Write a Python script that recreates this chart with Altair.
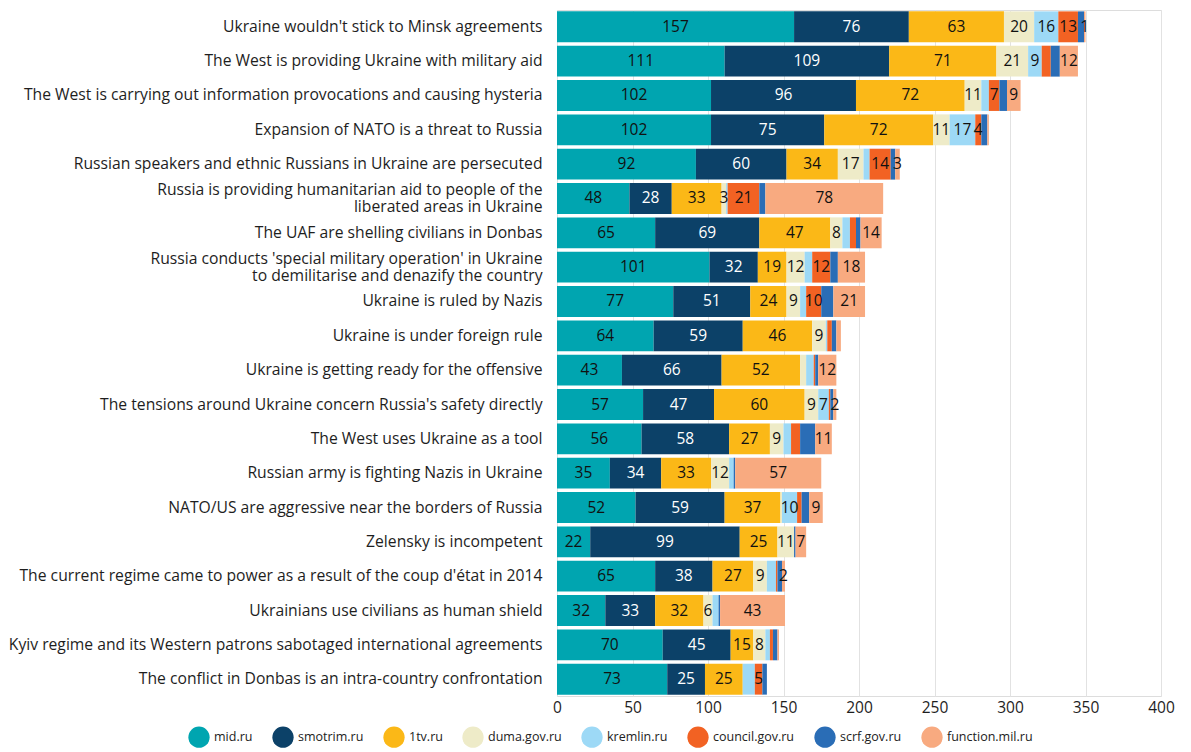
import altair as alt
import pandas as pd

claims = [
    "Ukraine wouldn't stick to Minsk agreements",
    "The West is providing Ukraine with military aid",
    "The West is carrying out information provocations and causing hysteria",
    "Expansion of NATO is a threat to Russia",
    "Russian speakers and ethnic Russians in Ukraine are persecuted",
    "Russia is providing humanitarian aid to people of the|liberated areas in Ukraine",
    "The UAF are shelling civilians in Donbas",
    "Russia conducts 'special military operation' in Ukraine|to demilitarise and denazify the country",
    "Ukraine is ruled by Nazis",
    "Ukraine is under foreign rule",
    "Ukraine is getting ready for the offensive",
    "The tensions around Ukraine concern Russia's safety directly",
    "The West uses Ukraine as a tool",
    "Russian army is fighting Nazis in Ukraine",
    "NATO/US are aggressive near the borders of Russia",
    "Zelensky is incompetent",
    "The current regime came to power as a result of the coup d'état in 2014",
    "Ukrainians use civilians as human shield",
    "Kyiv regime and its Western patrons sabotaged international agreements",
    "The conflict in Donbas is an intra-country confrontation",
]

sources = ["mid.ru", "smotrim.ru", "1tv.ru", "duma.gov.ru", "kremlin.ru",
           "council.gov.ru", "scrf.gov.ru", "function.mil.ru"]
colors = ["#00a5b0", "#0c4168", "#fbb817", "#eeebc8", "#9dd9f6",
          "#f26223", "#2a6db6", "#f8aa80"]

mid = [157, 111, 102, 102, 92, 48, 65, 101, 77, 64, 43, 57, 56, 35, 52, 22, 65, 32, 70, 73]
smotrim = [76, 109, 96, 75, 60, 28, 69, 32, 51, 59, 66, 47, 58, 34, 59, 99, 38, 33, 45, 25]
tv1 = [63, 71, 72, 72, 34, 33, 47, 19, 24, 46, 52, 60, 27, 33, 37, 25, 27, 32, 15, 25]
duma = [20, 21, 11, 11, 17, 3, 8, 12, 9, 9, 4, 9, 9, 12, 1, 11, 9, 6, 8, 0]
kremlin = [16, 9, 5, 17, 4, 1, 5, 5, 4, 1, 5, 7, 5, 3, 10, 0, 6, 4, 3, 8]
council = [13, 6, 7, 4, 14, 21, 4, 12, 10, 3, 1, 1, 6, 0, 3, 0, 1, 0, 2, 5]
scrf = [4, 6, 5, 4, 3, 4, 3, 5, 8, 3, 2, 2, 10, 1, 5, 1, 3, 1, 3, 3]
function = [1, 12, 9, 1, 3, 78, 14, 18, 21, 3, 12, 2, 11, 57, 9, 7, 2, 43, 1, 0]

series = [mid, smotrim, tv1, duma, kremlin, council, scrf, function]

# labels of small segments that are printed, and of larger ones that are not
small_shown = {(0, "function.mil.ru"), (3, "council.gov.ru"), (4, "function.mil.ru"),
               (5, "duma.gov.ru"), (11, "function.mil.ru"), (16, "function.mil.ru"),
               (17, "duma.gov.ru"), (19, "council.gov.ru")}
large_hidden = {(19, "kremlin.ru")}

rows = []
for si, (src, vals) in enumerate(zip(sources, series)):
    for ci, (claim, v) in enumerate(zip(claims, vals)):
        show = (v >= 7 and src != "scrf.gov.ru" and (ci, src) not in large_hidden) or (ci, src) in small_shown
        rows.append({"claim": claim, "source": src, "order": si, "value": v,
                     "show": bool(show and v > 0), "dark": src == "smotrim.ru"})
df = pd.DataFrame(rows)

FONT = "Open Sans"

base = alt.Chart(df).transform_stack(
    stack="value", groupby=["claim"], sort=[alt.SortField("order", "ascending")], as_=["x0", "x1"]
).transform_calculate(mid="(datum.x0 + datum.x1) / 2")

y_enc = alt.Y("claim:N", sort=claims, title=None,
              scale=alt.Scale(paddingInner=0.1, paddingOuter=0.04),
              axis=alt.Axis(labelExpr="split(datum.label, '|')", labelFont=FONT,
                            labelFontSize=15.7, labelColor="#1e1e1e", labelPadding=15,
                            labelLimit=700, labelLineHeight=17, ticks=False, domain=False,
                            labelOffset={"condition": {"test": "indexof(datum.value, '|') >= 0",
                                                       "value": -8.5}, "value": 0}))

bars = base.mark_bar().encode(
    x=alt.X("x0:Q", title=None, scale=alt.Scale(domain=[0, 400]),
            axis=alt.Axis(values=[0, 50, 100, 150, 200, 250, 300, 350, 400], labelFont=FONT,
                          labelFontSize=15.5, labelColor="#1e1e1e", ticks=False, domain=False,
                          labelFlush=False, grid=True, gridColor="#e2e2e2", labelPadding=4)),
    x2="x1:Q",
    y=y_enc,
    color=alt.Color("source:N", sort=sources,
                    scale=alt.Scale(domain=sources, range=colors),
                    legend=alt.Legend(title=None, orient="none", direction="horizontal",
                                      columns=8, legendX=-369, legendY=716,
                                      symbolType="circle", symbolSize=452, symbolStrokeWidth=0,
                                      labelFont=FONT, labelFontSize=12.5, labelColor="#222",
                                      labelOffset=4, columnPadding=19)),
)

text = base.transform_filter("datum.show").mark_text(font=FONT, fontSize=15.5, baseline="middle",
                                                     align="center").encode(
    x="mid:Q",
    y=alt.Y("claim:N", sort=claims),
    text="value:Q",
    color=alt.condition("datum.dark", alt.value("#ffffff"), alt.value("#111111")),
)

chart = alt.layer(bars, text).properties(
    width=604, height=686, autosize="none",
    padding={"left": 549, "top": 2, "right": 18, "bottom": 56},
).configure_view(stroke=None).configure(background="white")

chart.save("out.html", embed_options={"renderer": "svg", "actions": False})
